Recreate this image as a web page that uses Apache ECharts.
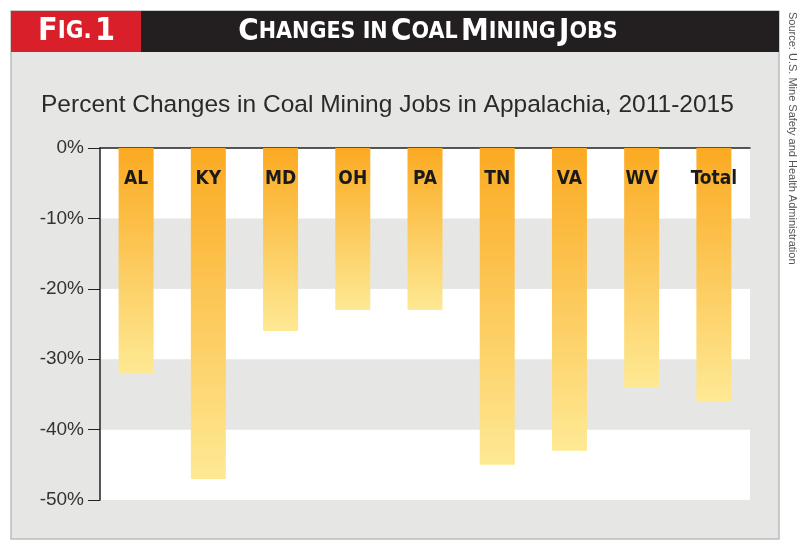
<!DOCTYPE html>
<html><head><meta charset="utf-8">
<script src="https://cdn.jsdelivr.net/npm/echarts@6/dist/echarts.min.js"></script>
<style>html,body{margin:0;padding:0;background:#fff}#main{width:800px;height:546px}</style>
</head><body><div id="main"></div>
<script>
var states = ['AL', 'KY', 'MD', 'OH', 'PA', 'TN', 'VA', 'WV', 'Total'];
var changes = [-32, -47, -26, -23, -23, -45, -43, -34, -36];
var yTicks = [0, -10, -20, -30, -40, -50];

var chart = echarts.init(document.getElementById('main'));
var cond = '"DejaVu Sans Condensed", "Liberation Sans", sans-serif';
var option = {
    backgroundColor: '#fff',
    animation: false,
    title: {
        text: 'Percent Changes in Coal Mining Jobs in Appalachia, 2011-2015',
        left: 36, top: 88,
        textStyle: { fontFamily: '"Liberation Sans", sans-serif', fontWeight: 'normal', fontSize: 24.5, color: '#2a2a2a' }
    },
    graphic: [
        { type: 'rect', shape: { x: 11, y: 11, width: 768, height: 528 }, style: { fill: '#e6e7e4', stroke: '#bbbcbc', lineWidth: 1.5 }, z: -10 },
        { type: 'rect', shape: { x: 11, y: 11, width: 130, height: 41 }, style: { fill: '#d9202a' }, z: -5 },
        { type: 'rect', shape: { x: 141, y: 11, width: 638, height: 41 }, style: { fill: '#231f20' }, z: -5 },
        { type: 'text', x: 38, y: 32, style: { text: '{b|F}{s|IG.} {b|1}', verticalAlign: 'middle', fill: '#fff',
            rich: { b: { fontFamily: cond, fontWeight: 'bold', fontSize: 32, fill: '#fff' }, s: { fontFamily: cond, fontWeight: 'bold', fontSize: 24, fill: '#fff' } } } },
        { type: 'text', x: 428, y: 32, style: { text: '{b|C}{s|HANGES IN} {b|C}{s|OAL} {b|M}{s|INING} {b|J}{s|OBS}', align: 'center', verticalAlign: 'middle',
            rich: { b: { fontFamily: cond, fontWeight: 'bold', fontSize: 31, fill: '#fff' }, s: { fontFamily: cond, fontWeight: 'bold', fontSize: 23, fill: '#fff' } } } },
        { type: 'text', x: 798, y: 12, rotation: -Math.PI / 2, style: { text: 'Source: U.S. Mine Safety and Health Administration',
            fontFamily: '"Liberation Sans", sans-serif', fontSize: 11, fill: '#555' } }
    ],
    grid: { left: 100, right: 50, top: 148, bottom: 46 },
    xAxis: {
        type: 'category', data: states, position: 'top',
        axisLine: { lineStyle: { color: '#222', width: 1.5 } },
        axisTick: { show: false }, axisLabel: { show: false }
    },
    yAxis: {
        type: 'value', min: -50, max: 0, interval: 10,
        axisLine: { show: true, lineStyle: { color: '#222', width: 1.5 } },
        axisTick: { show: true, length: 12, lineStyle: { color: '#222' } },
        axisLabel: { formatter: function (v) { return yTicks.indexOf(v) >= 0 ? v + '%' : ''; },
            fontFamily: '"Liberation Sans", sans-serif', fontSize: 19, color: '#333', margin: 16 },
        splitLine: { show: false },
        splitArea: { show: true, areaStyle: { color: ['#ffffff', '#e6e7e4'] } }
    },
    series: [{
        type: 'bar', data: changes, barWidth: 35,
        itemStyle: { color: new echarts.graphic.LinearGradient(0, 0, 0, 1, [
            { offset: 0, color: '#fbaa22' }, { offset: 1, color: '#fee994' }]) },
        label: { show: true, position: 'insideTop', distance: 22,
            formatter: function (p) { return p.name; },
            fontFamily: cond, fontWeight: 'bold', fontSize: 19, color: '#1a1a1a' }
    }]
};
chart.setOption(option);
</script></body></html>
